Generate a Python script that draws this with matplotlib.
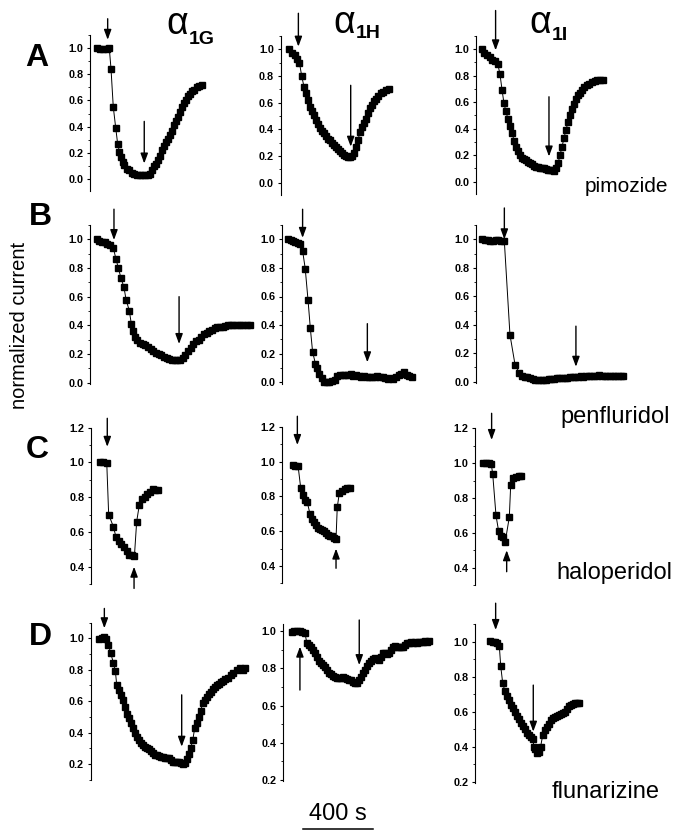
import matplotlib
matplotlib.use('Agg')
import matplotlib.pyplot as plt
from matplotlib.ticker import FixedLocator, FormatStrFormatter
import matplotlib.transforms as mtrans

plt.rcParams['font.family'] = ['Liberation Sans', 'DejaVu Sans']

# ---------------- data (time in s, normalized current) ----------------
A1_t = [38,57,76,95,110,120,133,147,158,168,177,187,196,210,223,238,253,269,284,299,314,330,343,354,366,377,389,400,411,423,434,446,457,469,480,491,503,514,526,537,549,560,571,583,594,610,625,640]
A1_v = [1.00,0.99,0.99,0.99,1.00,0.84,0.55,0.39,0.27,0.21,0.17,0.13,0.11,0.08,0.07,0.05,0.04,0.03,0.03,0.03,0.03,0.03,0.04,0.07,0.10,0.12,0.15,0.18,0.22,0.25,0.28,0.31,0.34,0.37,0.41,0.44,0.47,0.51,0.55,0.58,0.60,0.63,0.65,0.67,0.68,0.70,0.71,0.72]
A1_arrows = [(101, 1.22, 1.06), (310, 0.44, 0.12)]

A2_t = [50,65,80,95,107,120,133,145,156,168,179,191,202,213,225,236,248,259,270,282,293,305,316,328,339,350,362,373,385,396,408,419,430,442,453,465,476,488,499,510,522,533,545,556,571,587,602,617]
A2_v = [1.0,0.97,0.96,0.93,0.90,0.80,0.72,0.67,0.62,0.57,0.54,0.51,0.47,0.44,0.41,0.39,0.37,0.35,0.33,0.32,0.30,0.28,0.27,0.25,0.24,0.22,0.21,0.20,0.195,0.195,0.20,0.22,0.27,0.32,0.38,0.42,0.45,0.48,0.52,0.56,0.58,0.61,0.63,0.65,0.67,0.68,0.695,0.70]
A2_arrows = [(101, 1.27, 1.02), (400, 0.73, 0.27)]

A3_t = [32,48,63,78,93,109,124,137,149,160,171,183,194,206,217,229,240,251,263,274,286,297,309,320,331,343,354,366,377,389,400,411,423,434,446,457,469,480,491,503,514,526,537,549,560,571,583,594,606,617,632,648,663,678,693,709,724]
A3_v = [1.0,0.97,0.955,0.94,0.92,0.91,0.89,0.81,0.69,0.59,0.53,0.47,0.42,0.37,0.31,0.26,0.23,0.20,0.18,0.17,0.16,0.15,0.14,0.13,0.12,0.11,0.11,0.10,0.10,0.10,0.095,0.09,0.09,0.09,0.08,0.10,0.14,0.20,0.26,0.33,0.39,0.45,0.50,0.55,0.585,0.62,0.65,0.67,0.69,0.71,0.73,0.74,0.75,0.76,0.765,0.77,0.765]
A3_arrows = [(112, 1.29, 0.99), (417, 0.64, 0.19)]

B1_t = [38,53,69,84,99,114,133,149,162,177,194,206,225,236,248,259,270,286,301,316,331,347,362,377,392,408,423,438,453,469,484,499,514,530,545,560,575,590,606,621,636,651,667,682,697,712,728,743,758,773,789,804,819,838,857,876,895,914]
B1_v = [1.0,0.99,0.98,0.98,0.97,0.96,0.94,0.86,0.80,0.73,0.665,0.58,0.50,0.41,0.36,0.32,0.30,0.28,0.27,0.26,0.25,0.235,0.22,0.21,0.20,0.19,0.18,0.17,0.165,0.16,0.16,0.155,0.16,0.17,0.19,0.22,0.245,0.27,0.29,0.30,0.32,0.34,0.35,0.36,0.37,0.38,0.385,0.39,0.39,0.395,0.40,0.40,0.40,0.405,0.405,0.40,0.40,0.40]
B1_arrows = [(137, 1.21, 0.995), (509, 0.60, 0.27)]

B2_t = [34,48,61,74,88,101,116,131,147,160,173,189,200,211,225,238,253,269,284,299,314,330,345,360,375,391,406,421,436,451,467,482,497,512,528,543,558,573,589,604,619,634,650,665,680,695,711,726,741]
B2_v = [1.0,0.995,0.99,0.98,0.975,0.965,0.92,0.795,0.575,0.38,0.215,0.13,0.10,0.06,0.03,0.005,0.005,0.005,0.01,0.015,0.045,0.05,0.05,0.05,0.05,0.055,0.045,0.05,0.045,0.04,0.045,0.04,0.035,0.04,0.04,0.045,0.035,0.04,0.03,0.02,0.03,0.02,0.035,0.05,0.06,0.07,0.05,0.045,0.04]
B2_arrows = [(116, 1.21, 1.01), (486, 0.41, 0.14)]

B3_t = [36,51,67,82,97,112,128,143,162,194,223,248,263,278,293,309,324,339,354,370,385,400,415,430,446,461,476,491,507,522,537,552,568,583,598,613,629,644,659,674,690,705,720,735,750,766,781,796,811,827,842]
B3_v = [1.0,0.995,0.993,0.99,0.99,0.993,0.995,0.99,0.985,0.33,0.12,0.06,0.04,0.035,0.03,0.025,0.02,0.015,0.012,0.01,0.012,0.015,0.016,0.02,0.02,0.023,0.023,0.026,0.028,0.026,0.03,0.033,0.035,0.033,0.037,0.035,0.04,0.042,0.037,0.042,0.04,0.047,0.042,0.04,0.042,0.04,0.042,0.04,0.042,0.04,0.042]
B3_arrows = [(162, 1.22, 1.0), (571, 0.39, 0.105)]

C1_t = [51,70,90,101,128,143,158,173,189,204,219,234,248,261,276,291,307,322,337,352,368,383]
C1_v = [1.0,1.0,0.998,0.70,0.63,0.57,0.55,0.53,0.515,0.49,0.47,0.465,0.46,0.66,0.755,0.79,0.80,0.82,0.83,0.845,0.84,0.84]
C1_arrows = [(93, 1.254, 1.09), (246, 0.275, 0.40)]

C2_t = [59,74,90,105,116,128,143,158,170,181,192,204,215,227,238,250,261,272,284,295,307,314,326,341,356,371,387]
C2_v = [0.98,0.976,0.976,0.85,0.81,0.78,0.765,0.70,0.67,0.65,0.635,0.62,0.615,0.605,0.60,0.59,0.58,0.575,0.57,0.56,0.555,0.737,0.82,0.83,0.84,0.85,0.85]
C2_arrows = [(86, 1.26, 1.095), (307, 0.387, 0.50)]

C3_t = [48,63,78,93,101,120,135,150,162,173,196,204,219,234,250,265]
C3_v = [1.0,1.0,1.0,0.993,0.94,0.70,0.61,0.58,0.575,0.55,0.69,0.875,0.913,0.92,0.926,0.926]
C3_arrows = [(95, 1.286, 1.133), (181, 0.377, 0.50)]

D1_t = [48,63,76,88,101,114,130,141,149,160,171,183,194,206,217,229,240,251,263,274,286,297,309,320,331,343,354,366,377,389,400,411,423,434,446,457,469,480,491,503,514,526,537,549,560,571,583,594,606,617,629,640,651,663,674,686,697,709,720,731,743,754,770,785,800,815,834,853,869,884]
D1_v = [0.994,1.0,1.01,0.994,0.96,0.905,0.845,0.79,0.70,0.67,0.64,0.61,0.565,0.52,0.49,0.46,0.43,0.40,0.375,0.35,0.335,0.32,0.31,0.305,0.295,0.28,0.27,0.26,0.255,0.25,0.245,0.245,0.24,0.24,0.24,0.225,0.215,0.215,0.21,0.21,0.205,0.198,0.205,0.23,0.264,0.30,0.35,0.427,0.46,0.50,0.54,0.586,0.61,0.625,0.645,0.66,0.675,0.69,0.70,0.71,0.72,0.73,0.74,0.75,0.765,0.78,0.80,0.81,0.80,0.81]
D1_arrows = [(78, 1.19, 1.064), (520, 0.64, 0.31)]

D2_t = [48,63,78,94,109,124,135,149,160,171,183,194,206,217,229,240,251,263,274,286,297,309,320,331,343,354,366,377,389,400,411,423,434,446,457,469,480,491,503,514,526,537,549,560,571,583,594,606,617,629,640,651,663,674,686,697,709,720,731,743,754,766,777,789,800,811,823,834]
D2_v = [0.996,1.0,1.002,1.0,0.996,0.987,0.934,0.925,0.912,0.90,0.884,0.862,0.84,0.826,0.817,0.808,0.79,0.776,0.77,0.758,0.755,0.75,0.75,0.75,0.755,0.746,0.74,0.737,0.737,0.728,0.72,0.723,0.737,0.755,0.773,0.79,0.81,0.826,0.84,0.848,0.853,0.848,0.844,0.862,0.88,0.884,0.877,0.88,0.898,0.912,0.92,0.916,0.916,0.912,0.916,0.925,0.934,0.937,0.94,0.937,0.943,0.937,0.943,0.94,0.943,0.944,0.941,0.944]
D2_arrows = [(95, 0.683, 0.916), (434, 1.059, 0.817)]

D3_t = [86,101,116,128,139,147,158,170,181,192,204,215,227,238,250,261,272,284,295,307,318,330,337,345,356,368,375,387,398,410,421,432,444,455,467,478,490,501,512,524,535,547,558,570,581,592]
D3_v = [1.006,1.0,1.0,0.99,0.975,0.86,0.766,0.72,0.69,0.667,0.638,0.62,0.60,0.575,0.556,0.537,0.518,0.50,0.48,0.467,0.453,0.442,0.40,0.385,0.362,0.37,0.40,0.467,0.495,0.514,0.53,0.55,0.562,0.571,0.575,0.58,0.587,0.59,0.60,0.613,0.63,0.638,0.644,0.648,0.65,0.65]
D3_arrows = [(118, 1.22, 1.067), (333, 0.752, 0.486)]

row_letters = ['A', 'B', 'C', 'D']
drug_names = ['pimozide', 'penfluridol', 'haloperidol', 'flunarizine']
channel_subs = ['1G', '1H', '1I']
ylabel_text = 'normalized current'
scalebar_seconds = 400
scalebar_label = '400 s'

ticksA = [0.0, 0.2, 0.4, 0.6, 0.8, 1.0]
ticksC = [0.4, 0.6, 0.8, 1.0, 1.2]
ticksD = [0.2, 0.4, 0.6, 0.8, 1.0]

# ---------------- layout (pixel calibration) ----------------
W, H = 680, 831
fig = plt.figure(figsize=(W / 100, H / 100), dpi=100)
PX_PER_S = 0.175
AX_W = 170

# spine x, (v1, y1), (v2, y2), ylim, major ticks
layout = {
    'A1': (90.0, (1.0, 47.7), (0.0, 179.3), (-0.09, 1.1), ticksA),
    'A2': (280.7, (1.0, 49.3), (0.0, 182.7), (-0.09, 1.1), ticksA),
    'A3': (476.0, (1.0, 49.0), (0.0, 181.7), (-0.09, 1.1), ticksA),
    'B1': (90.0, (1.0, 239.3), (0.0, 382.7), (-0.01, 1.1), ticksA),
    'B2': (282.3, (1.0, 239.3), (0.0, 382.3), (-0.01, 1.1), ticksA),
    'B3': (476.0, (1.0, 239.3), (0.0, 381.7), (-0.01, 1.1), ticksA),
    'C1': (91.0, (1.2, 427.7), (0.4, 566.7), (0.3, 1.2), ticksC),
    'C2': (282.3, (1.2, 426.7), (0.4, 566.0), (0.3, 1.2), ticksC),
    'C3': (475.0, (1.2, 428.3), (0.4, 567.7), (0.3, 1.2), ticksC),
    'D1': (90.7, (1.0, 638.3), (0.2, 764.0), (0.1, 1.1), ticksD),
    'D2': (283.3, (1.0, 631.0), (0.2, 780.0), (0.195, 1.04), ticksD),
    'D3': (475.0, (1.0, 641.7), (0.2, 781.7), (0.195, 1.1), ticksD),
}

series = {
    'A1': (A1_t, A1_v, A1_arrows), 'A2': (A2_t, A2_v, A2_arrows), 'A3': (A3_t, A3_v, A3_arrows),
    'B1': (B1_t, B1_v, B1_arrows), 'B2': (B2_t, B2_v, B2_arrows), 'B3': (B3_t, B3_v, B3_arrows),
    'C1': (C1_t, C1_v, C1_arrows), 'C2': (C2_t, C2_v, C2_arrows), 'C3': (C3_t, C3_v, C3_arrows),
    'D1': (D1_t, D1_v, D1_arrows), 'D2': (D2_t, D2_v, D2_arrows), 'D3': (D3_t, D3_v, D3_arrows),
}

axes = {}
for key, (sx, (v1, y1), (v2, y2), (lo, hi), ticks) in layout.items():
    scale = (y2 - y1) / (v1 - v2)
    y_top = y1 - (hi - v1) * scale
    y_bot = y1 + (v1 - lo) * scale
    ax = fig.add_axes([sx / W, 1 - y_bot / H, AX_W / W, (y_bot - y_top) / H])
    ax.set_xlim(0, AX_W / PX_PER_S)
    ax.set_ylim(lo, hi)
    for s in ['top', 'right', 'bottom']:
        ax.spines[s].set_visible(False)
    ax.spines['left'].set_linewidth(0.8)
    ax.set_xticks([])
    ax.yaxis.set_major_locator(FixedLocator(ticks))
    minors = [round(t + 0.1, 2) for t in ticks[:-1]]
    if lo < ticks[0] - 0.05:
        minors.append(round(ticks[0] - 0.1, 2))
    if hi > ticks[-1] + 0.05:
        minors.append(round(ticks[-1] + 0.1, 2))
    ax.yaxis.set_minor_locator(FixedLocator(minors))
    ax.yaxis.set_major_formatter(FormatStrFormatter('%.1f'))
    ax.tick_params(axis='y', which='major', direction='out', length=2.2, width=0.8,
                   pad=2.6, labelsize=7.8)
    ax.tick_params(axis='y', which='minor', direction='out', length=1.3, width=0.6)
    for lab in ax.get_yticklabels():
        lab.set_fontweight('bold')
    ax.patch.set_visible(False)

    t, v, arrows = series[key]
    ax.plot(t, v, color='black', lw=0.7, marker='s', ms=4.8, mec='black',
            mfc='black', clip_on=False, zorder=3)
    for (ta, tail, tip) in arrows:
        ax.annotate('', xy=(ta, tip), xytext=(ta, tail), annotation_clip=False,
                    arrowprops=dict(arrowstyle='-|>,head_length=0.6,head_width=0.22',
                                    mutation_scale=10, lw=1.0, color='black',
                                    shrinkA=0, shrinkB=0))
    axes[key] = ax


def fx(x):
    return x / W


def fy(y):
    return 1 - y / H


# channel titles: alpha right-aligned, subscript left-aligned at the same x
title_x = [188, 355, 551]
alpha_y = [24, 23, 23]
sub_y = [40, 33, 35]
for tx, ay_, sy_, sub in zip(title_x, alpha_y, sub_y, channel_subs):
    fig.text(fx(tx), fy(ay_), 'α', fontsize=27, ha='right', va='center')
    fig.text(fx(tx + 1), fy(sy_), sub, fontsize=14, fontweight='bold', ha='left', va='center')

# row letters
letter_pos = [(37, 58), (40, 217), (37, 450), (40, 637)]
for (lx, ly), L in zip(letter_pos, row_letters):
    fig.text(fx(lx), fy(ly), L, fontsize=23, fontweight='bold', ha='center', va='center')

# drug names
drug_pos = [(668, 187), (670, 417), (672, 573), (660, 792)]
drug_sizes = [15, 17, 17, 17]
for (dx, dy), name, fs in zip(drug_pos, drug_names, drug_sizes):
    fig.text(fx(dx), fy(dy), name, fontsize=fs, ha='right', va='center')

# y label
fig.text(fx(20), fy(325), ylabel_text, fontsize=14.5, rotation=90, ha='center', va='center')

# scale bar (drawn in D2 data units along x)
axd = axes['D2']
tr = mtrans.blended_transform_factory(axd.transData, fig.transFigure)
t0 = (303 - 283.3) / PX_PER_S
axd.plot([t0, t0 + scalebar_seconds], [fy(829), fy(829)], color='black', lw=1.1,
         transform=tr, clip_on=False)
fig.text(fx(338), fy(814), scalebar_label, fontsize=17, ha='center', va='center')

fig.savefig('out.png', dpi=100)
